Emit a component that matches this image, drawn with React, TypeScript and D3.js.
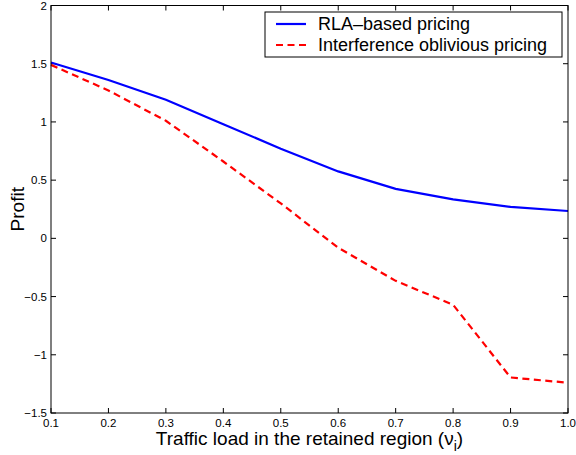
import { useEffect, useRef } from "react"
import * as d3 from "d3"

const loads = [0.1, 0.2, 0.3, 0.4, 0.5, 0.6, 0.7, 0.8, 0.9, 1.0]
const rlaProfit = [1.51, 1.36, 1.19, 0.98, 0.77, 0.575, 0.425, 0.335, 0.27, 0.235]
const obliviousProfit = [1.49, 1.27, 1.01, 0.66, 0.3, -0.08, -0.365, -0.57, -1.195, -1.24]
const xTicks = [0.1, 0.2, 0.3, 0.4, 0.5, 0.6, 0.7, 0.8, 0.9, 1.0]
const yTicks = [-1.5, -1, -0.5, 0, 0.5, 1, 1.5, 2]
const seriesNames = ["RLA\u2013based pricing", "Interference oblivious pricing"]

const W = 576, H = 455
const M = { left: 51, right: 8, top: 5.5, bottom: 42 }
const FONT = "'Liberation Sans', Arial, Helvetica, sans-serif"

export default function App() {
  const ref = useRef<SVGSVGElement>(null)
  useEffect(() => {
    if (!ref.current) return
    const svg = d3.select(ref.current)
    svg.selectAll("*").remove()
    const x = d3.scaleLinear().domain([0.1, 1.0]).range([M.left, W - M.right])
    const y = d3.scaleLinear().domain([-1.5, 2]).range([H - M.bottom, M.top])
    const [x0, x1] = x.range(), [y0, y1] = y.range()

    svg.append("rect").attr("width", W).attr("height", H).attr("fill", "#fff")

    // ticks (inside, on all four sides)
    const tl = 5
    const g = svg.append("g").attr("stroke", "#000").attr("stroke-width", 1)
    xTicks.forEach(t => {
      g.append("line").attr("x1", x(t)).attr("x2", x(t)).attr("y1", y0).attr("y2", y0 - tl)
      g.append("line").attr("x1", x(t)).attr("x2", x(t)).attr("y1", y1).attr("y2", y1 + tl)
    })
    yTicks.forEach(t => {
      g.append("line").attr("x1", x0).attr("x2", x0 + tl).attr("y1", y(t)).attr("y2", y(t))
      g.append("line").attr("x1", x1).attr("x2", x1 - tl).attr("y1", y(t)).attr("y2", y(t))
    })

    // tick labels
    const fmtY = (v: number) => (v < 0 ? "\u2212" : "") + String(Math.abs(v))
    svg.append("g").selectAll("text").data(xTicks).join("text")
      .attr("x", d => x(d)).attr("y", y0 + 14).attr("text-anchor", "middle")
      .style("font-family", FONT).style("font-size", "11.5px").text(d => d.toFixed(1))
    svg.append("g").selectAll("text").data(yTicks).join("text")
      .attr("x", x0 - 4).attr("y", d => y(d)).attr("dy", "0.35em").attr("text-anchor", "end")
      .style("font-family", FONT).style("font-size", "11.5px").text(d => fmtY(d))

    // lines
    const line = d3.line<number>().x((_, i) => x(loads[i])).y(d => y(d))
    svg.append("path").attr("d", line(rlaProfit)).attr("fill", "none")
      .attr("stroke", "#0000ff").attr("stroke-width", 2.2)
    svg.append("path").attr("d", line(obliviousProfit)).attr("fill", "none")
      .attr("stroke", "#ff0000").attr("stroke-width", 2.2).attr("stroke-dasharray", "7,4.5")

    // box
    svg.append("rect").attr("x", x0).attr("y", y1).attr("width", x1 - x0).attr("height", y0 - y1)
      .attr("fill", "none").attr("stroke", "#000").attr("stroke-width", 1)

    // axis labels
    const xl = svg.append("text").attr("x", (x0 + x1) / 2).attr("y", H - 10).attr("text-anchor", "middle")
      .style("font-family", FONT).style("font-size", "19px")
    xl.append("tspan").text("Traffic load in the retained region (\u03bd")
    xl.append("tspan").attr("dy", 6).style("font-size", "14px").text("i")
    xl.append("tspan").attr("dy", -6).text(")")
    svg.append("text").attr("transform", `translate(24,${(y0 + y1) / 2}) rotate(-90)`)
      .attr("text-anchor", "middle").style("font-family", FONT).style("font-size", "19px").text("Profit")

    // legend
    const lg = svg.append("g").attr("transform", "translate(265,12)")
    lg.append("rect").attr("width", 297).attr("height", 45).attr("fill", "#fff").attr("stroke", "#000")
    const styles = [{ c: "#0000ff", d: null }, { c: "#ff0000", d: "7,4.5" }]
    seriesNames.forEach((name, i) => {
      const yy = 12 + i * 21
      lg.append("line").attr("x1", 11).attr("x2", 41).attr("y1", yy).attr("y2", yy)
        .attr("stroke", styles[i].c).attr("stroke-width", 2.2).attr("stroke-dasharray", styles[i].d)
      lg.append("text").attr("x", 53).attr("y", yy).attr("dy", "0.35em")
        .style("font-family", FONT).style("font-size", "18px").text(name)
    })
  }, [])
  return <svg ref={ref} width={W} height={H} style={{ display: "block", position: "absolute", left: 0, top: 0 }} />
}
